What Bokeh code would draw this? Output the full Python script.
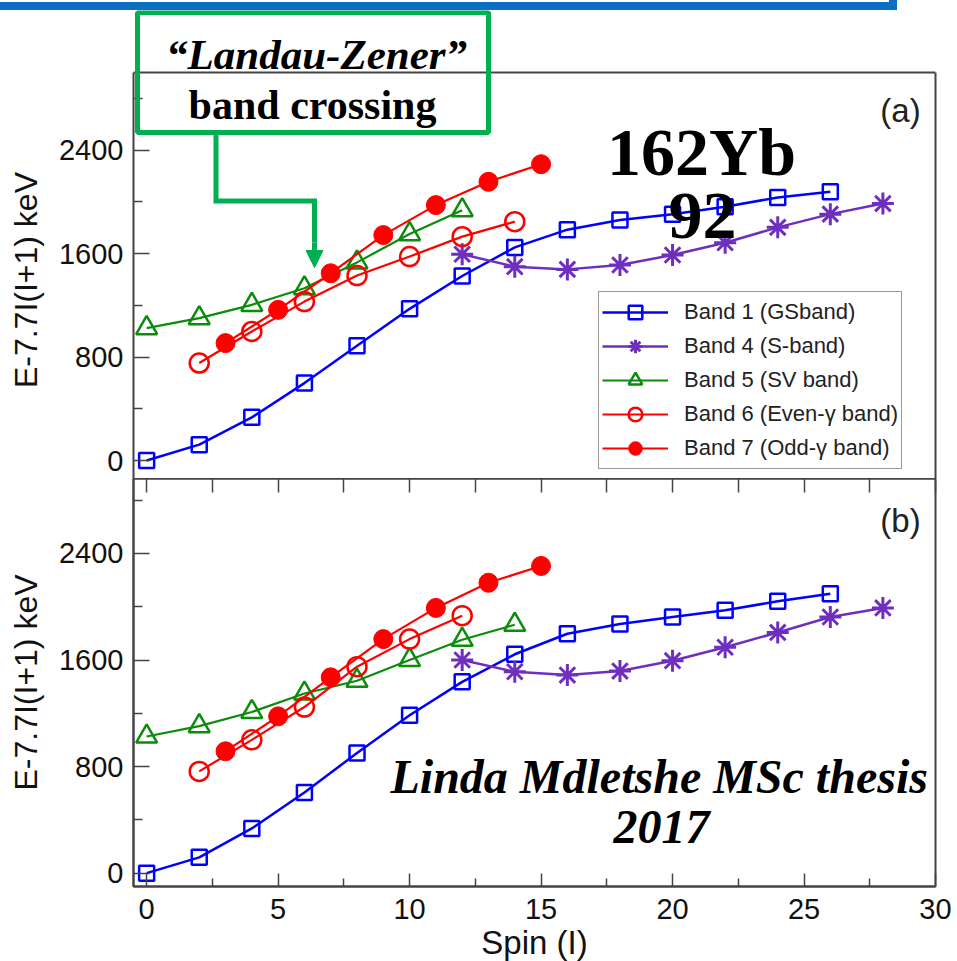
from bokeh.plotting import figure
from bokeh.layouts import column
from bokeh.models import (FixedTicker, Legend, LegendItem, Label, BoxAnnotation,
                          Arrow, NormalHead, LinearAxis, Range1d, Div)
from bokeh.embed import file_html
from bokeh.resources import INLINE

# ---------------- data: E - 7.7 I(I+1) (keV) against spin I ----------------
spin_gs = [0, 2, 4, 6, 8, 10, 12, 14, 16, 18, 20, 22, 24, 26]
spin_s = [12, 14, 16, 18, 20, 22, 24, 26, 28]
spin_odd = [3, 5, 7, 9, 11, 13, 15]

# panel (a)
spin_sv_a = [0, 2, 4, 6, 8, 10, 12]
spin_even_a = [2, 4, 6, 8, 10, 12, 14]
a_band1 = [0, 123, 334, 599, 887, 1173, 1427, 1648, 1785, 1859, 1905, 1962, 2034, 2078]
a_band4 = [1595, 1499, 1478, 1512, 1589, 1684, 1803, 1905, 1987]
a_band5 = [1024, 1101, 1204, 1332, 1532, 1751, 1936]
a_band6 = [754, 998, 1229, 1430, 1577, 1731, 1847]
a_band7 = [908, 1165, 1448, 1743, 1975, 2155, 2291]

# panel (b)
spin_sv_b = [0, 2, 4, 6, 8, 10, 12, 14]
spin_even_b = [2, 4, 6, 8, 10, 12]
b_band1 = [0, 119, 336, 605, 902, 1185, 1436, 1643, 1797, 1870, 1923, 1973, 2041, 2097]
b_band4 = [1600, 1512, 1487, 1517, 1595, 1696, 1807, 1923, 1991]
b_band5 = [1026, 1104, 1210, 1349, 1444, 1600, 1752, 1865]
b_band6 = [764, 1001, 1247, 1550, 1757, 1933]
b_band7 = [915, 1177, 1470, 1757, 1991, 2180, 2306]

band_labels = ["Band 1 (GSband)", "Band 4 (S-band)", "Band 5 (SV band)",
               "Band 6 (Even-\u03b3 band)", "Band 7 (Odd-\u03b3 band)"]
y_ticks = [0, 800, 1600, 2400]
y_minor = [400, 1200, 2000, 2800]
x_ticks = [0, 5, 10, 15, 20, 25, 30]
x_minor = [2.5, 7.5, 12.5, 17.5, 22.5, 27.5]

# ---------------- styling ----------------
BLUE = "#0000ff"
PURPLE = "#6e2fbf"
GREEN = "#0b8c0b"
RED = "#ff0000"
BOX_GREEN = "#00b050"
BANNER = "#0b6fc3"
FRAME = "#444444"
SANS = "Liberation Sans"
SERIF = "Liberation Serif"

BANNER_W, BANNER_H = 897, 10
X0, X1 = -0.5, 30
Y0, Y1 = -100, 3000
LEFT, FRAME_W, RIGHT = 133, 802, 22
A_TOP, A_H = 72, 401          # panel (a) box: top edge on the page, height in px
B_H, B_BOTTOM = 413, 75
A_EXTRA = A_TOP - BANNER_H    # room above panel (a) box for the call-out
PAD = 5                       # panel (a) reaches a little below its box so "0" fits
A_UNIT = (Y1 - Y0) / A_H
B_UNIT = (Y1 - Y0) / B_H
YA_START = Y0 - PAD * A_UNIT
YA_END = Y1 + A_EXTRA * A_UNIT
YB_END = Y1 - PAD * B_UNIT
Y_LABEL = "E-7.7I(I+1) keV"


def sx(px):
    return X0 + (px - LEFT) * (X1 - X0) / FRAME_W


def sy(py, top, unit):
    return Y1 - (py - top) * unit


def style_left_axis(p, label, bounds):
    p.xgrid.visible = False
    p.ygrid.visible = False
    ya = p.yaxis[0]
    ya.ticker = FixedTicker(ticks=y_ticks, minor_ticks=y_minor)
    ya.bounds = bounds
    ya.axis_label = label
    ya.axis_label_text_font = SANS
    ya.axis_label_text_font_style = "normal"
    ya.axis_label_text_font_size = "32px"
    ya.axis_label_text_color = "#111111"
    ya.axis_label_standoff = 12
    ya.major_label_text_font = SANS
    ya.major_label_text_font_size = "29px"
    ya.major_label_text_color = "#111111"
    ya.major_label_standoff = 10
    ya.major_tick_in = 16
    ya.major_tick_out = 0
    ya.minor_tick_in = 9
    ya.minor_tick_out = 0
    ya.axis_line_color = FRAME
    ya.axis_line_width = 2
    ya.major_tick_line_color = FRAME
    ya.major_tick_line_width = 1.5
    ya.minor_tick_line_color = FRAME
    ya.minor_tick_line_width = 1.5


def draw_bands(p, spin_sv, spin_even, d1, d4, d5, d6, d7):
    r = []
    l1 = p.line(spin_gs, d1, line_color=BLUE, line_width=2.5)
    s1 = p.scatter(spin_gs, d1, marker="square", size=15, line_color=BLUE,
                   line_width=2.5, fill_color=None)
    r.append([l1, s1])
    l4 = p.line(spin_s, d4, line_color=PURPLE, line_width=2.5)
    s4 = p.scatter(spin_s, d4, marker="asterisk", size=22, line_color=PURPLE,
                   line_width=3)
    r.append([l4, s4])
    l5 = p.line(spin_sv, d5, line_color=GREEN, line_width=2.2)
    s5 = p.scatter(spin_sv, d5, marker="triangle", size=21, line_color=GREEN,
                   line_width=2.5, fill_color=None)
    r.append([l5, s5])
    l6 = p.line(spin_even, d6, line_color=RED, line_width=2.2)
    s6 = p.scatter(spin_even, d6, marker="circle", size=19, line_color=RED,
                   line_width=2.5, fill_color=None)
    r.append([l6, s6])
    l7 = p.line(spin_odd, d7, line_color=RED, line_width=2.2)
    s7 = p.scatter(spin_odd, d7, marker="circle", size=19, line_color=RED,
                   fill_color=RED)
    r.append([l7, s7])
    return r


def add_text(p, x, y, text, font, style, size, align="center", color="black"):
    p.add_layout(Label(x=x, y=y, text=text, text_font=font, text_font_style=style,
                       text_font_size=size, text_align=align, text_baseline="middle",
                       text_color=color))


# ---------------- blue banner edge across the top ----------------
banner = Div(text="", width=BANNER_W, height=BANNER_H, margin=(0, 0, 0, 0),
             styles={"box-sizing": "border-box",
                     "border-bottom": "8px solid " + BANNER,
                     "border-right": "8px solid " + BANNER})

# ---------------- panel (a) ----------------
pa = figure(frame_width=FRAME_W, frame_height=A_H + A_EXTRA + PAD,
            x_range=Range1d(X0, X1), y_range=Range1d(YA_START, YA_END),
            x_axis_location=None, output_backend="svg", toolbar_location=None,
            min_border_left=LEFT, min_border_right=RIGHT,
            min_border_top=0, min_border_bottom=0, outline_line_color=None)
# the panel box sits below the call-out, so the label is padded to centre on it
style_left_axis(pa, Y_LABEL + "\u00a0" * 8, (YA_START, Y1))
pa.add_layout(LinearAxis(ticker=FixedTicker(ticks=[]), bounds=(YA_START, Y1),
                         major_tick_in=0, major_tick_out=0, minor_tick_in=0, minor_tick_out=0,
                         axis_line_color=FRAME, axis_line_width=2), "right")
pa.segment(x0=[X0], y0=[Y1], x1=[X1], y1=[Y1], line_color=FRAME, line_width=2)

rend_a = draw_bands(pa, spin_sv_a, spin_even_a, a_band1, a_band4, a_band5, a_band6, a_band7)

legend = Legend(items=[LegendItem(label=lab, renderers=rs) for lab, rs in zip(band_labels, rend_a)],
                location=(465, 4 + PAD), margin=0, padding=3, spacing=0,
                glyph_width=66, glyph_height=34, label_height=34, label_standoff=16,
                label_text_font=SANS, label_text_font_size="22px", label_text_color="#222222",
                border_line_color="#333333", border_line_width=1.5,
                background_fill_color="white", background_fill_alpha=1)
pa.add_layout(legend)


def ya_(py):
    return sy(py, A_TOP, A_UNIT)


# call-out box
pa.add_layout(BoxAnnotation(left=sx(137), right=sx(488), top=ya_(12), bottom=ya_(132),
                            fill_alpha=0, line_alpha=1, line_color=BOX_GREEN, line_width=5))
add_text(pa, sx(316), ya_(54), "\u201cLandau-Zener\u201d", SERIF, "bold italic", "43px")
add_text(pa, sx(312), ya_(104), "band crossing", SERIF, "bold", "42px")
# call-out pointer
pa.line([sx(215.5), sx(215.5), sx(314), sx(314)],
        [ya_(132), ya_(200.5), ya_(200.5), ya_(242)],
        line_color=BOX_GREEN, line_width=5, line_join="miter")
pa.add_layout(Arrow(x_start=sx(314), y_start=ya_(242), x_end=sx(314), y_end=ya_(267),
                    line_color=BOX_GREEN, line_width=5,
                    end=NormalHead(size=17, fill_color=BOX_GREEN, line_color=BOX_GREEN)))
# nucleus
add_text(pa, sx(701), ya_(151), "162Yb", SERIF, "bold", "68px")
add_text(pa, sx(702), ya_(215), "92", SERIF, "bold", "68px")
add_text(pa, sx(900), ya_(110), "(a)", SANS, "normal", "33px", color="#222222")

# ---------------- panel (b) ----------------
pb = figure(frame_width=FRAME_W, frame_height=B_H - PAD,
            x_range=pa.x_range, y_range=Range1d(Y0, YB_END),
            output_backend="svg", toolbar_location=None,
            min_border_left=LEFT, min_border_right=RIGHT,
            min_border_top=0, min_border_bottom=B_BOTTOM)
pb.outline_line_color = FRAME
pb.outline_line_width = 2
style_left_axis(pb, Y_LABEL, (Y0, YB_END))
xa = pb.xaxis[0]
xa.ticker = FixedTicker(ticks=x_ticks, minor_ticks=x_minor)
xa.axis_label = "Spin (I)"
xa.axis_label_text_font = SANS
xa.axis_label_text_font_style = "normal"
xa.axis_label_text_font_size = "33px"
xa.axis_label_text_color = "#111111"
xa.axis_label_standoff = 2
xa.major_label_text_font = SANS
xa.major_label_text_font_size = "29px"
xa.major_label_text_color = "#111111"
xa.major_label_standoff = 12
xa.major_tick_in = 13
xa.major_tick_out = 0
xa.minor_tick_in = 8
xa.minor_tick_out = 0
xa.axis_line_color = FRAME
xa.axis_line_width = 2
xa.major_tick_line_color = FRAME
xa.major_tick_line_width = 1.5
xa.minor_tick_line_color = FRAME
xa.minor_tick_line_width = 1.5

# shared edge between the panels: unlabelled inward ticks
pb.add_layout(LinearAxis(ticker=FixedTicker(ticks=[], minor_ticks=x_ticks + x_minor),
                         major_tick_in=0, major_tick_out=0, minor_tick_in=14, minor_tick_out=0,
                         axis_line_color=FRAME, axis_line_width=2,
                         minor_tick_line_color=FRAME, minor_tick_line_width=1.5), "above")

draw_bands(pb, spin_sv_b, spin_even_b, b_band1, b_band4, b_band5, b_band6, b_band7)

B_TOP = A_TOP + A_H   # page y where panel (b) reaches 3000


def yb_(py):
    return sy(py, B_TOP, B_UNIT)


add_text(pb, sx(390), yb_(776), "Linda Mdletshe MSc thesis", SERIF, "bold italic", "48px",
         align="left")
add_text(pb, sx(661), yb_(826), "2017", SERIF, "bold italic", "48px")
add_text(pb, sx(900), yb_(520), "(b)", SANS, "normal", "33px", color="#222222")

layout = column(banner, pa, pb, spacing=0)
open("out.html", "w").write(file_html(layout, INLINE))
